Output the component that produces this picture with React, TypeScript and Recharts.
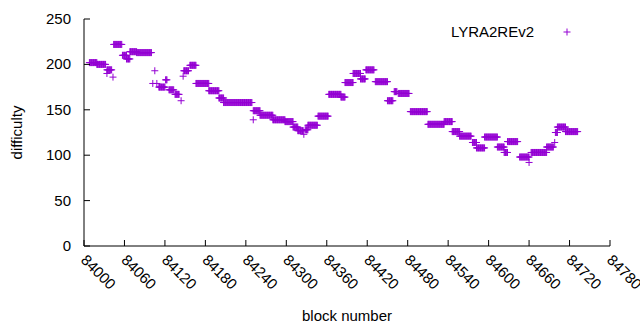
import { ScatterChart, Scatter, XAxis, YAxis, Legend, ReferenceArea, Label } from 'recharts';

// runs of equal difficulty: first block, last block, value
const runStart = [
  84008, 84019, 84034, 84034, 84043, 84044, 84057, 84063, 84068, 84078,
  84102, 84105, 84108, 84111, 84121, 84126, 84135, 84144, 84147, 84148,
  84157, 84166, 84185, 84200, 84207, 84251, 84251, 84261, 84280, 84298,
  84310, 84317, 84326, 84328, 84332, 84347, 84363, 84381, 84387, 84399,
  84410, 84418, 84432, 84450, 84460, 84466, 84484, 84510, 84534, 84546,
  84557, 84576, 84582, 84594, 84613, 84623, 84628, 84646, 84660, 84663,
  84686, 84698, 84699, 84702, 84714,
];
const runEnd = [
  84019, 84032, 84041, 84034, 84043, 84056, 84063, 84068, 84078, 84100,
  84102, 84105, 84108, 84120, 84123, 84133, 84141, 84144, 84147, 84155,
  84166, 84185, 84200, 84207, 84249, 84251, 84261, 84280, 84298, 84310,
  84317, 84325, 84326, 84332, 84346, 84362, 84381, 84387, 84399, 84410,
  84417, 84430, 84450, 84458, 84464, 84482, 84509, 84534, 84546, 84557,
  84574, 84582, 84594, 84613, 84623, 84628, 84643, 84660, 84660, 84686,
  84696, 84698, 84702, 84714, 84732,
];
const runValue = [
  202, 200, 194, 190, 186, 222, 210, 206, 214, 213,
  179, 193, 179, 175, 183, 172, 167, 160, 187, 193,
  199, 179, 171, 163, 158, 139, 149, 144, 139, 137,
  131, 127, 123, 128, 133, 143, 167, 164, 180, 190,
  184, 194, 181, 160, 170, 168, 148, 134, 137, 126,
  121, 114, 108, 120, 109, 103, 115, 98, 92, 103,
  109, 114, 125, 131, 126,
];

const xTicks = [84000, 84060, 84120, 84180, 84240, 84300, 84360, 84420, 84480, 84540, 84600, 84660, 84720, 84780];
const yTicks = [0, 50, 100, 150, 200, 250];

const points: { block: number; difficulty: number }[] = [];
runStart.forEach((s, i) => {
  for (let b = s; b <= runEnd[i]; b++) points.push({ block: b, difficulty: runValue[i] });
});

const FONT = '"Liberation Sans", Arial, sans-serif';
const COLOR = '#9400d3';

const PlusShape = (props: any) => {
  const { cx, cy } = props;
  return <path d={`M${cx - 3.5},${cy}h7M${cx},${cy - 3.5}v7`} stroke={COLOR} strokeWidth={1} fill="none" />;
};

const BottomTick = ({ x, y, payload }: any) => (
  <g>
    <line x1={x} y1={y} x2={x} y2={y - 6} stroke="#000" />
    <text
      transform={`translate(${x - 4},${y + 15}) rotate(45)`}
      fontFamily={FONT}
      fontSize={15}
      fill="#000"
      textAnchor="start"
    >
      {payload.value}
    </text>
  </g>
);

const TopTick = ({ x, y }: any) => <line x1={x} y1={y} x2={x} y2={y + 6} stroke="#000" />;

const LeftTick = ({ x, y, payload }: any) => (
  <g>
    <line x1={x} y1={y} x2={x + 6} y2={y} stroke="#000" />
    <text x={x - 13} y={y + 5} fontFamily={FONT} fontSize={15} fill="#000" textAnchor="end">
      {payload.value}
    </text>
  </g>
);

const RightTick = ({ x, y }: any) => <line x1={x} y1={y} x2={x - 6} y2={y} stroke="#000" />;

const KeyBox = () => (
  <div style={{ display: 'flex', alignItems: 'center', fontFamily: FONT, fontSize: 15, color: '#000' }}>
    <span>LYRA2REv2</span>
    <svg width={41} height={16}>
      <path d="M29.5,8h7M33,4.5v7" stroke={COLOR} strokeWidth={1} fill="none" />
    </svg>
  </div>
);

export default function App() {
  return (
    <div style={{ position: 'absolute', left: 0, top: 0, width: 640, height: 330, background: '#fff' }}>
      <ScatterChart width={640} height={330} margin={{ top: 19, right: 30, bottom: 0, left: 0 }}>
        <XAxis
          xAxisId="b"
          dataKey="block"
          type="number"
          domain={[84000, 84780]}
          ticks={xTicks}
          interval={0}
          height={84}
          tickSize={0}
          tickMargin={0}
          tickLine={false}
          axisLine={{ stroke: '#000' }}
          tick={<BottomTick />}
        >
          <Label
            content={({ viewBox }: any) => (
              <text
                x={viewBox.x + viewBox.width / 2}
                y={viewBox.y + 75}
                fontFamily={FONT}
                fontSize={15}
                textAnchor="middle"
                fill="#000"
              >
                block number
              </text>
            )}
          />
        </XAxis>
        <XAxis
          xAxisId="t"
          orientation="top"
          dataKey="block"
          type="number"
          domain={[84000, 84780]}
          ticks={xTicks}
          interval={0}
          height={0}
          tickSize={0}
          tickMargin={0}
          tickLine={false}
          axisLine={{ stroke: '#000' }}
          tick={<TopTick />}
        />
        <YAxis
          yAxisId="l"
          type="number"
          domain={[0, 250]}
          ticks={yTicks}
          interval={0}
          width={84}
          tickSize={0}
          tickMargin={0}
          tickLine={false}
          axisLine={{ stroke: '#000' }}
          tick={<LeftTick />}
        >
          <Label
            content={({ viewBox }: any) => {
              const cx = 17;
              const cy = viewBox.y + viewBox.height / 2;
              return (
                <text
                  transform={`translate(${cx + 5},${cy}) rotate(-90)`}
                  fontFamily={FONT}
                  fontSize={15}
                  textAnchor="middle"
                  fill="#000"
                >
                  difficulty
                </text>
              );
            }}
          />
        </YAxis>
        <YAxis
          yAxisId="r"
          orientation="right"
          type="number"
          domain={[0, 250]}
          ticks={yTicks}
          interval={0}
          width={0}
          tickSize={0}
          tickMargin={0}
          tickLine={false}
          axisLine={{ stroke: '#000' }}
          tick={<RightTick />}
        />
        <Legend
          layout="horizontal"
          verticalAlign="middle"
          align="center"
          wrapperStyle={{ top: 23, right: 65, width: 'auto' }}
          content={() => <KeyBox />}
        />
        <Scatter
          xAxisId="b"
          yAxisId="l"
          name="LYRA2REv2"
          data={points}
          dataKey="difficulty"
          shape={<PlusShape />}
          isAnimationActive={false}
        />
      </ScatterChart>
    </div>
  );
}
